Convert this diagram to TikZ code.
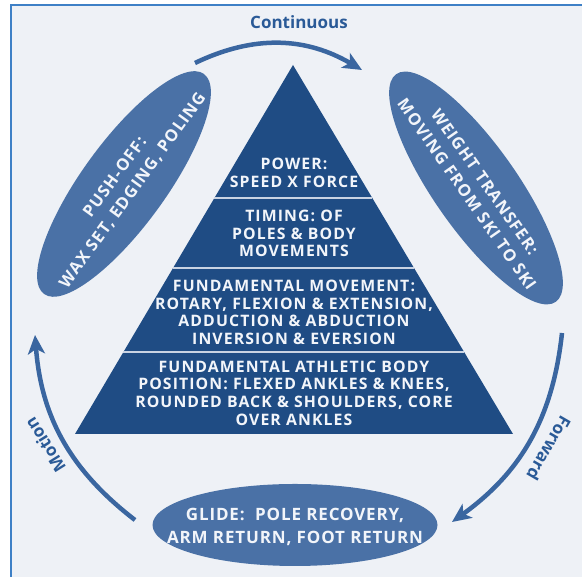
\documentclass[tikz,border=0pt]{standalone}
\usepackage{fontspec}
\setmainfont{Open Sans}
\newfontfamily\spaced{Open Sans}[LetterSpace=7]
\newfontfamily\spacedlight{Open Sans}[LetterSpace=5]
\usepackage{tikz}
\usetikzlibrary{arrows.meta}
\usetikzlibrary{calc}
\usetikzlibrary{shapes.geometric}

\definecolor{pyrblue}{HTML}{1F4C84}
\definecolor{ovalblue}{HTML}{4A71A6}
\definecolor{arcblue}{HTML}{3A66A0}
\definecolor{labblue}{HTML}{2A5A97}
\definecolor{paper}{HTML}{EEF1F6}
\definecolor{rulecol}{HTML}{3E80C6}
\definecolor{sepline}{HTML}{C9D3E3}
\definecolor{txtwhite}{HTML}{F2F5FA}

\begin{document}
\begin{tikzpicture}[x=1pt, y=1pt,
	oval/.style={ellipse, fill=ovalblue, inner sep=0pt},
	ovaltxt/.style={align=center, text=txtwhite, inner sep=0pt,
				font=\spaced\fontsize{16.5}{22}\selectfont\bfseries},
	lvltxt/.style={align=center, text=txtwhite, inner sep=0pt,
				font=\spaced\fontsize{15.8}{17.6}\selectfont\bfseries},
	cyc/.style={-{Stealth[length=19pt, width=17pt, inset=5pt]},
				draw=arcblue, line width=4.5pt},
	lab/.style={text=labblue, inner sep=0pt,
				font=\fontsize{17}{19}\selectfont\bfseries},
]
\useasboundingbox (0,0) rectangle (582,577);
\fill[white] (0,0) rectangle (582,577);
\fill[paper] (11,0) rectangle (582,572);
\draw[rulecol, line width=1.5pt] (11,0) -- (11,572) -- (582,572);
%
% pyramid
\coordinate (apex) at (293,512);
\coordinate (bl) at (75,143);
\coordinate (br) at (513,143);
\fill[pyrblue] (apex) -- (bl) -- (br) -- cycle;
\foreach \t in {0.3604, 0.5501, 0.7778}
	\draw[sepline, line width=1.2pt] ($(apex)!\t!(bl)$) -- ($(apex)!\t!(br)$);
\node [lvltxt] (power) at (294,404) {POWER:\\SPEED X FORCE};
\node [lvltxt] (timing) at (294,343.5) {TIMING: OF\\POLES \& BODY\\MOVEMENTS};
\node [lvltxt] (fmove) at (294,264.5) {FUNDAMENTAL MOVEMENT:\\ROTARY, FLEXION \& EXTENSION,\\ADDUCTION \& ABDUCTION\\INVERSION \& EVERSION};
\node [lvltxt] (fpos) at (294,184) {FUNDAMENTAL ATHLETIC BODY\\POSITION: FLEXED ANKLES \& KNEES,\\ROUNDED BACK \& SHOULDERS, CORE\\OVER ANKLES};
%
% phases
\node [oval, rotate=54, minimum width=272pt, minimum height=84pt] (push) at (124,393) {};
\node [ovaltxt, rotate=54] (pusht) at (push.center) {PUSH-OFF:\\WAX SET, EDGING, POLING};
\node [oval, rotate=-55, minimum width=278pt, minimum height=84pt] (wt) at (476,389) {};
\node [ovaltxt, rotate=-55] (wtt) at (wt.center) {WEIGHT TRANSFER:\\MOVING FROM SKI TO SKI};
\node [oval, minimum width=285pt, minimum height=82pt] (glide) at (295,52) {};
\node [ovaltxt, font=\spacedlight\fontsize{17}{23}\selectfont\bfseries] (glidet) at (295,50.5)
	{GLIDE:\ \ POLE RECOVERY,\\ARM RETURN, FOOT RETURN};
%
% cycle arrows
\coordinate (c1s) at (195,514);
\coordinate (c1e) at (362,507);
\coordinate (c2s) at (562,244);
\coordinate (c2e) at (452,55);
\coordinate (c3s) at (135,57);
\coordinate (c3e) at (35,242);
\draw [cyc] (c1s) to[bend left=28] (c1e);
\draw [cyc] (c2s) to[bend left=24] (c2e);
\draw [cyc] (c3s) to[bend left=24] (c3e);
\node [lab] (cont) at (299,555) {Continuous};
\node [lab, rotate=-120] (fwd) at (549,129) {Forward};
\node [lab, rotate=122] (mot) at (45,132) {Motion};
\end{tikzpicture}
\end{document}
